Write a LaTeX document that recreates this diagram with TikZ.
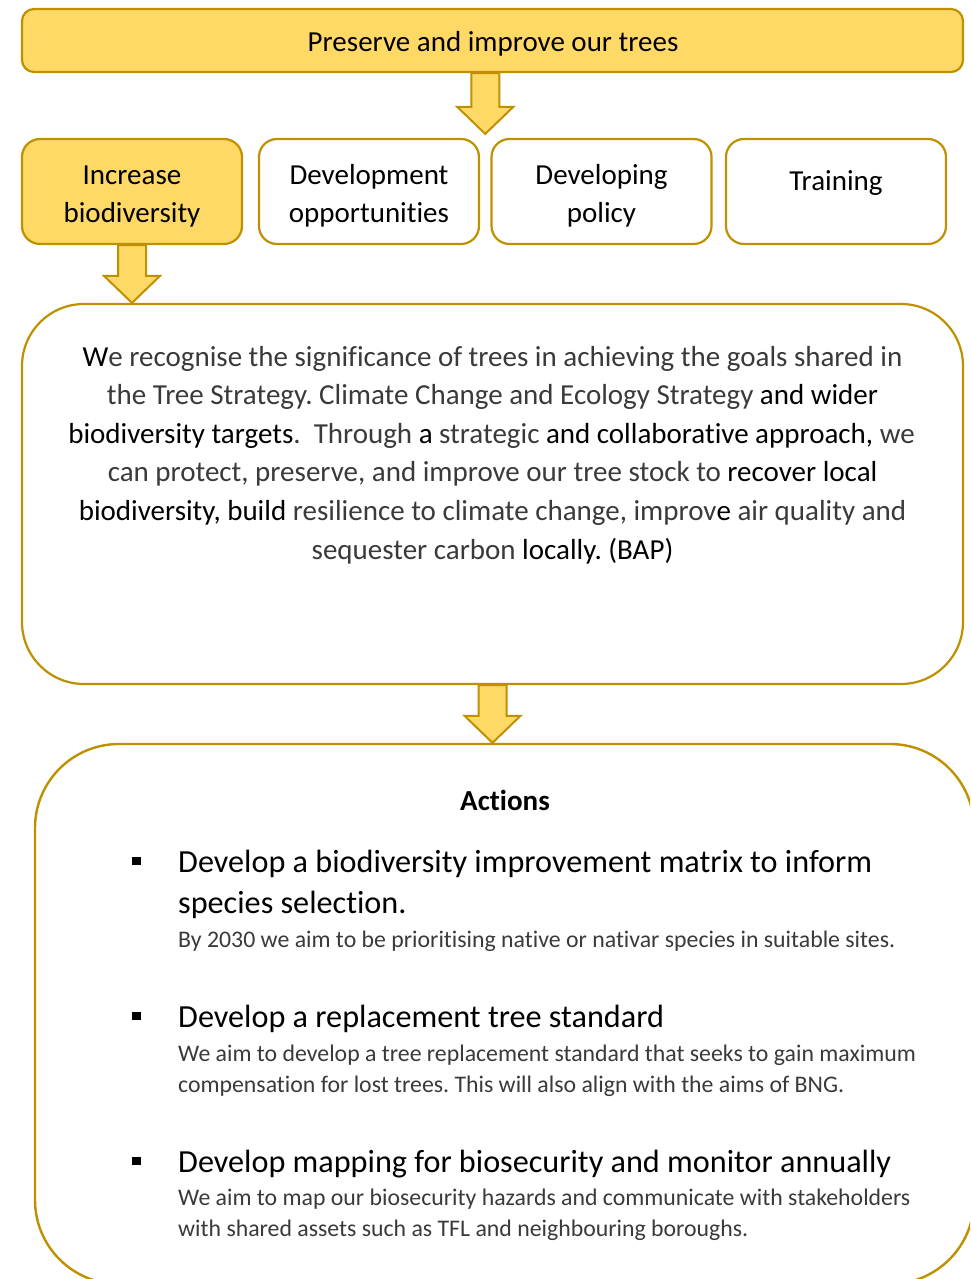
\documentclass[tikz,border=0pt]{standalone}
\usepackage{fontspec}
\setmainfont{Carlito}[Ligatures=NoCommon]
\usetikzlibrary{calc}
\frenchspacing

\definecolor{goldfill}{HTML}{FFD966}
\definecolor{goldline}{HTML}{BF9000}
\definecolor{lighttext}{HTML}{3A3A3A}

% words set in the regular (darker) weight inside lighter running text
\newcommand\rg[1]{{\color{black}#1}}

% block arrow: #1 = top of the shaft, #2 = tip
\newcommand\blockarrow[2]{%
  \draw[barrow] let \p1=(#1), \p2=(#2) in
    (\x2-14pt,\y1) -- (\x2-14pt,\y2+27pt) -- (\x2-28pt,\y2+27pt) -- (\x2,\y2)
    -- (\x2+28pt,\y2+27pt) -- (\x2+14pt,\y2+27pt) -- (\x2+14pt,\y1) -- cycle;}

\begin{document}
\begin{tikzpicture}[x=1pt,y=-1pt,
  goalbox/.style={draw=goldline, line width=2.2pt, fill=goldfill, rounded corners=12pt,
    minimum width=941pt, minimum height=63pt, inner sep=0pt},
  themebox/.style={draw=goldline, line width=2.2pt, rounded corners=18pt,
    minimum width=220pt, minimum height=105pt, inner sep=0pt},
  activebox/.style={themebox, fill=goldfill},
  textbox/.style={draw=goldline, line width=2.2pt, fill=white, rounded corners=62pt,
    minimum width=941pt, minimum height=380pt, inner sep=0pt},
  actionbox/.style={draw=goldline, line width=2.4pt, fill=white, rounded corners=84pt,
    minimum width=939pt, minimum height=540pt, inner sep=0pt},
  barrow/.style={draw=goldline, line width=2pt, fill=goldfill, line join=miter},
  txt/.style={anchor=base, inner sep=0pt, font=\fontsize{29}{35}\selectfont},
  paratxt/.style={txt, text=lighttext},
  headtxt/.style={anchor=base west, inner sep=0pt, font=\fontsize{32.2}{38}\selectfont},
  subtxt/.style={anchor=base west, inner sep=0pt, font=\fontsize{23.8}{28}\selectfont, text=lighttext},
  bulletsq/.style={fill=black, inner sep=0pt, minimum width=8.5pt, minimum height=8pt}
]
\useasboundingbox (0,0) rectangle (970,1279);

% goal
\node[goalbox] (goal) at (492.5,40.5) {};
\node[txt] (goaltext) at (493,52) {Preserve and improve our trees};

% themes
\node[activebox] (b1) at (132,191.5) {};
\node[themebox] (b2) at (369,191.5) {};
\node[themebox] (b3) at (601.5,191.5) {};
\node[themebox] (b4) at (836,191.5) {};
\node[txt] (b1a) at (132,184) {Increase};
\node[txt] (b1b) at (132,222) {biodiversity};
\node[txt] (b2a) at (369,184) {Development};
\node[txt] (b2b) at (369,222) {opportunities};
\node[txt] (b3a) at (601.5,184) {Developing};
\node[txt] (b3b) at (601.5,222) {policy};
\node[txt] (b4a) at (836,190) {Training};

% statement
\node[textbox] (para) at (492.5,494) {};
\node[paratxt] (p1) at (492.5,366) {\rg{W}e recognise the significance of trees in achieving the goals shared in};
\node[paratxt] (p2) at (492.5,404.6) {the Tree Strategy. Climate Change and Ecology Strategy \rg{and wider}};
\node[paratxt] (p3) at (491.5,443.2) {\rg{biodiversity targets}.\ \ Through \rg{a} strategic \rg{and collaborative approach,} we};
\node[paratxt] (p4) at (492.5,481.8) {can protect, preserve, and improve our tree stock to \rg{recover local}};
\node[paratxt] (p5) at (492.5,520.4) {\rg{biodiversity, build} resilience to climate change, improv\rg{e} air quality and};
\node[paratxt] (p6) at (492.5,559) {sequester carbon \rg{locally. (BAP)}};

% actions
\begin{scope}
  \clip (0,0) rectangle (970,1279);
  \node[actionbox] (acts) at (504.5,1014) {};
\end{scope}
\node[txt, font=\fontsize{29}{35}\selectfont\bfseries] (acttitle) at (505,810) {Actions};

\node[bulletsq] (bul1) at (136.5,861) {};
\node[headtxt] (h1a) at (178,872) {Develop a biodiversity improvement matrix to inform};
\node[headtxt] (h1b) at (178,913) {species selection.};
\node[subtxt] (s1a) at (178,947) {By 2030 we aim to be prioritising native or nativar species in suitable sites.};

\node[bulletsq] (bul2) at (136.5,1016) {};
\node[headtxt] (h2a) at (178,1027) {Develop a replacement tree standard};
\node[subtxt] (s2a) at (178,1061) {We aim to develop a tree replacement standard that seeks to gain maximum};
\node[subtxt] (s2b) at (178,1092) {compensation for lost trees. This will also align with the aims of BNG.};

\node[bulletsq] (bul3) at (136.5,1161) {};
\node[headtxt] (h3a) at (178,1172) {Develop mapping for biosecurity and monitor annually};
\node[subtxt] (s3a) at (178,1205) {We aim to map our biosecurity hazards and communicate with stakeholders};
\node[subtxt] (s3b) at (178,1236) {with shared assets such as TFL and neighbouring boroughs.};

% arrows
\coordinate (a1tip) at ($(b2.north east)!0.5!(b3.north west)+(0,-4)$);
\blockarrow{goal.south -| a1tip}{a1tip}
\blockarrow{b1.south}{para.north -| b1.south}
\blockarrow{para.south}{acts.north -| para.south}
\end{tikzpicture}
\end{document}
